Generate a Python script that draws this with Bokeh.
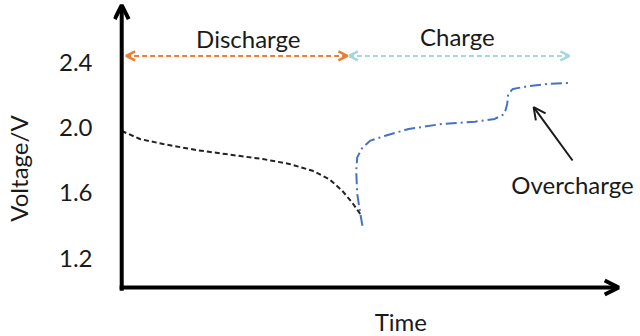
from bokeh.plotting import figure
from bokeh.models import Range1d, Arrow, OpenHead, FixedTicker, ColumnDataSource
from bokeh.core.properties import value
from bokeh.embed import file_html
from bokeh.resources import INLINE

# ---- data (time in arbitrary units, voltage in V) ----
discharge_t = [0.0, 3.5, 8.0, 14.4, 20.8, 27.2, 32.3, 36.8, 40.0, 42.5, 44.4, 46.0]
discharge_v = [1.98, 1.931, 1.900, 1.863, 1.835, 1.808, 1.778, 1.736, 1.685, 1.614, 1.542, 1.471]

charge_t = [46.4, 46.0, 45.4, 45.2, 45.4, 46.4, 47.95, 50.8, 55.3, 61.7, 68.1, 71.9,
            73.8, 74.3, 74.5, 75.4, 78.3, 82.1, 86.3]
charge_v = [1.399, 1.471, 1.593, 1.736, 1.818, 1.879, 1.921, 1.951, 1.992, 2.023, 2.037, 2.054,
            2.084, 2.146, 2.207, 2.238, 2.254, 2.269, 2.275]

y_ticks = [1.2, 1.6, 2.0, 2.4]

phase_labels = ["Discharge", "Charge"]
phase_start = [0.85, 43.8]
phase_end = [43.5, 86.3]
phase_level = 2.44

FONT = "Lato"
FS = "24px"

p = figure(width=640, height=336, output_backend="svg", toolbar_location=None,
           x_range=Range1d(-1.583, 100), y_range=Range1d(0.72, 2.78),
           min_border_left=110, min_border_right=0, min_border_top=0, min_border_bottom=0,
           x_axis_location=None, background_fill_color="white", border_fill_color="white")
p.outline_line_color = None
p.grid.visible = False

ya = p.yaxis[0]
ya.ticker = FixedTicker(ticks=y_ticks)
ya.major_label_overrides = {1.2: "1.2", 1.6: "1.6", 2.0: "2.0", 2.4: "2.4"}
ya.axis_line_color = None
ya.major_tick_line_color = None
ya.minor_tick_line_color = None
ya.major_tick_out = 0
ya.major_tick_in = 0
ya.minor_tick_out = 0
ya.minor_tick_in = 0
ya.major_label_standoff = 21
ya.major_label_text_font = FONT
ya.major_label_text_font_size = FS
ya.major_label_text_color = "#1a1a1a"
ya.axis_label = "Voltage/V"
ya.axis_label_text_font = FONT
ya.axis_label_text_font_size = FS
ya.axis_label_text_font_style = "normal"
ya.axis_label_text_color = "#1a1a1a"
ya.axis_label_standoff = 23

# curves
p.line(discharge_t, discharge_v, line_color="#222222", line_width=2, line_dash="5 3")
p.line(charge_t, charge_v, line_color="#4472C4", line_width=2, line_dash="11 4 2 4")

# axes arrows
p.add_layout(Arrow(x_start=0, y_start=1.0, x_end=0, y_end=2.752,
                   line_color="black", line_width=4,
                   end=OpenHead(size=14, line_width=4, line_color="black")))
p.add_layout(Arrow(x_start=-0.4, y_start=1.02, x_end=95.8, y_end=1.02,
                   line_color="black", line_width=4,
                   end=OpenHead(size=14, line_width=4, line_color="black")))

# phase arrows
phase_colors = ["#ED7D31", "#A5D7DE"]
for s, e, c in zip(phase_start, phase_end, phase_colors):
    p.add_layout(Arrow(x_start=s, y_start=phase_level, x_end=e, y_end=phase_level,
                       line_color=c, line_width=2, line_dash="5 3",
                       start=OpenHead(size=9, line_width=2.5, line_color=c),
                       end=OpenHead(size=9, line_width=2.5, line_color=c)))

# overcharge pointer
p.add_layout(Arrow(x_start=86.9, y_start=1.799, x_end=79.4, y_end=2.126,
                   line_color="#1a1a1a", line_width=2,
                   end=OpenHead(size=12, line_width=2, line_color="#1a1a1a")))

# texts
txt = ColumnDataSource(dict(
    x=[24.4, 64.7, 86.9, 53.8],
    y=[2.547, 2.559, 1.652, 0.812],
    t=phase_labels + ["Overcharge", "Time"],
))
p.text(x="x", y="y", text="t", source=txt, text_font=value(FONT), text_font_size=FS,
       text_align="center", text_baseline="middle", text_color="#1a1a1a")

open("out.html", "w").write(file_html(p, INLINE))
